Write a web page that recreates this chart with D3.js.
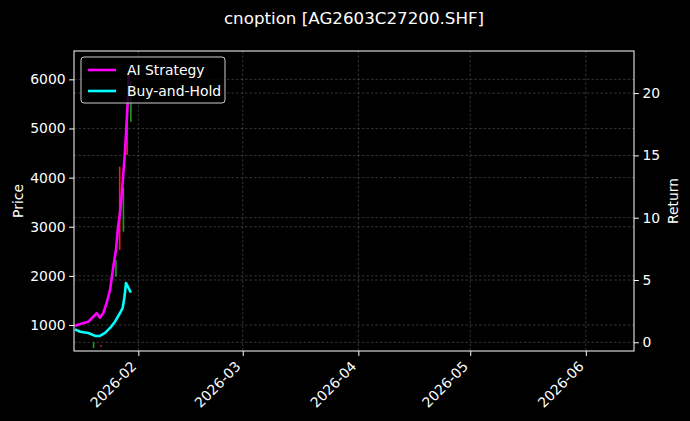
<!DOCTYPE html>
<html>
<head>
<meta charset="utf-8">
<script src="https://cdn.jsdelivr.net/npm/d3@7"></script>
<style>
  body { margin: 0; background: #000; }
  svg { display: block; font-family: "DejaVu Sans", sans-serif; }
</style>
</head>
<body>
<div id="chart"></div>
<script>
// candles (price axis, left)
var candleDates = ["2026-01-20", "2026-01-22", "2026-01-26", "2026-01-27", "2026-01-28", "2026-01-29", "2026-01-30"];
var candleOpen  = [530, 590, 1983, 4222, 2899, 5100, 5138];
var candleClose = [650, 560, 2323, 2527, 3800, 4460, 5966];

// strategy curves (return axis, right)
var aiDates = ["2026-01-15T00", "2026-01-16T10", "2026-01-18T14", "2026-01-19T22", "2026-01-20T20",
               "2026-01-21T17", "2026-01-22T14", "2026-01-23T12", "2026-01-24T10", "2026-01-25T07",
               "2026-01-26T00", "2026-01-26T14", "2026-01-27T07", "2026-01-27T19", "2026-01-28T10",
               "2026-01-28T22", "2026-01-29T06", "2026-01-29T10"];
var aiValues = [1.31, 1.47, 1.65, 2.05, 2.33, 1.97, 2.33, 3.15, 4.2, 6.07,
                7.41, 9.28, 10.88, 12.79, 15.3, 17.9, 19.8, 21.6];

var bhDates = ["2026-01-15T00", "2026-01-16T10", "2026-01-18T14", "2026-01-20T10", "2026-01-21T17",
               "2026-01-23T02", "2026-01-24T10", "2026-01-25T18", "2026-01-27T02", "2026-01-27T19",
               "2026-01-28T06", "2026-01-28T17", "2026-01-30T00"];
var bhValues = [1.04, 0.85, 0.75, 0.51, 0.51, 0.75, 1.15, 1.65, 2.35, 2.75, 3.56, 4.76, 3.98];

var xTickDates = ["2026-02-01", "2026-03-01", "2026-04-01", "2026-05-01", "2026-06-01"];
var priceTicks = [1000, 2000, 3000, 4000, 5000, 6000];
var returnTicks = [0, 5, 10, 15, 20];

var W = 690, H = 421;
var margin = { top: 51, right: 56, bottom: 70, left: 74 };
var iw = W - margin.left - margin.right,
    ih = H - margin.top - margin.bottom;

var parseDay = d3.utcParse("%Y-%m-%d"),
    parseHour = d3.utcParse("%Y-%m-%dT%H");

var x = d3.scaleUtc()
    .domain([parseHour("2026-01-14T18"), parseHour("2026-06-13T22")])
    .range([0, iw]);
var yPrice = d3.scaleLinear().domain([471, 6577]).range([ih, 0]);
var yRet = d3.scaleLinear().domain([-0.70, 23.38]).range([ih, 0]);

var svg = d3.select("#chart").append("svg")
    .attr("width", W)
    .attr("height", H);

svg.append("rect").attr("width", W).attr("height", H).attr("fill", "#000");

svg.append("text")
    .attr("x", margin.left + iw / 2)
    .attr("y", 24)
    .attr("text-anchor", "middle")
    .attr("font-size", "16.7px")
    .attr("fill", "#fff")
    .text("cnoption [AG2603C27200.SHF]");

var g = svg.append("g")
    .attr("transform", `translate(${margin.left},${margin.top})`);

svg.append("defs").append("clipPath").attr("id", "plotClip")
    .append("rect").attr("width", iw).attr("height", ih);

//grid
var grid = g.append("g").attr("class", "grid")
    .attr("stroke", "#4a4a4a")
    .attr("stroke-width", 0.7)
    .attr("stroke-dasharray", "2.5,2");

grid.selectAll(".vx").data(xTickDates).enter().append("line")
    .attr("x1", d => x(parseDay(d))).attr("x2", d => x(parseDay(d)))
    .attr("y1", 0).attr("y2", ih);
grid.selectAll(".hp").data(priceTicks).enter().append("line")
    .attr("x1", 0).attr("x2", iw)
    .attr("y1", d => yPrice(d)).attr("y2", d => yPrice(d));
grid.selectAll(".hr").data(returnTicks).enter().append("line")
    .attr("x1", 0).attr("x2", iw)
    .attr("y1", d => yRet(d)).attr("y2", d => yRet(d));

var plot = g.append("g").attr("clip-path", "url(#plotClip)");

//candles
plot.selectAll(".candle")
    .data(candleDates)
    .enter().append("rect")
    .attr("class", "candle")
    .attr("x", d => x(parseDay(d)) - 0.8)
    .attr("width", 1.6)
    .attr("y", (d, i) => yPrice(Math.max(candleOpen[i], candleClose[i])))
    .attr("height", (d, i) => Math.max(1, Math.abs(yPrice(candleOpen[i]) - yPrice(candleClose[i]))))
    .attr("fill", (d, i) => candleClose[i] >= candleOpen[i] ? "#1f9a1f" : "#ff1a1a");

var line = d3.line()
    .x(d => x(d[0]))
    .y(d => yRet(d[1]));

plot.append("path")
    .datum(bhDates.map((d, i) => [parseHour(d), bhValues[i]]))
    .attr("fill", "none")
    .attr("stroke", "#00ffff")
    .attr("stroke-width", 2.6)
    .attr("stroke-linejoin", "round")
    .attr("d", line);

plot.append("path")
    .datum(aiDates.map((d, i) => [parseHour(d), aiValues[i]]))
    .attr("fill", "none")
    .attr("stroke", "#ff00ff")
    .attr("stroke-width", 2.6)
    .attr("stroke-linejoin", "round")
    .attr("d", line);

//axes
var xAxis = g.append("g")
    .attr("transform", `translate(0,${ih})`)
    .call(d3.axisBottom(x).tickValues(xTickDates.map(parseDay)).tickFormat(d3.utcFormat("%Y-%m")).tickSize(4.9).tickPadding(3.5));
xAxis.selectAll("text")
    .attr("text-anchor", "end")
    .attr("dy", null)
    .attr("y", null)
    .attr("dominant-baseline", "hanging")
    .attr("transform", "translate(-9,9) rotate(-45)");

var yAxisL = g.append("g")
    .call(d3.axisLeft(yPrice).tickValues(priceTicks).tickFormat(d3.format("d")).tickSize(4.9).tickPadding(3.5));
var yAxisR = g.append("g")
    .attr("transform", `translate(${iw},0)`)
    .call(d3.axisRight(yRet).tickValues(returnTicks).tickFormat(d3.format("d")).tickSize(4.9).tickPadding(3.5));

[xAxis, yAxisL, yAxisR].forEach(function (a) {
    a.select(".domain").remove();
    a.selectAll("line").attr("stroke", "#fff");
    a.selectAll("text").attr("fill", "#fff").attr("font-size", "13.9px")
        .attr("font-family", "DejaVu Sans, sans-serif");
});

//frame
g.append("rect")
    .attr("width", iw).attr("height", ih)
    .attr("fill", "none").attr("stroke", "#fff").attr("stroke-width", 1);

svg.append("text")
    .attr("transform", `translate(18,${margin.top + ih / 2}) rotate(-90)`)
    .attr("text-anchor", "middle")
    .attr("dominant-baseline", "central")
    .attr("font-size", "13.9px")
    .attr("fill", "#fff")
    .text("Price");

svg.append("text")
    .attr("transform", `translate(673,${margin.top + ih / 2}) rotate(-90)`)
    .attr("text-anchor", "middle")
    .attr("dominant-baseline", "central")
    .attr("font-size", "13.9px")
    .attr("fill", "#fff")
    .text("Return");

//legend
var legend = g.append("g").attr("transform", "translate(7,6)");
legend.append("rect")
    .attr("width", 144).attr("height", 46).attr("rx", 3)
    .attr("fill", "#000").attr("fill-opacity", 0.8)
    .attr("stroke", "#ccc").attr("stroke-width", 1);

var legendItems = [["AI Strategy", "#ff00ff"], ["Buy-and-Hold", "#00ffff"]];
var li = legend.selectAll(".item").data(legendItems).enter().append("g")
    .attr("transform", (d, i) => `translate(0,${13 + i * 21})`);
li.append("line")
    .attr("x1", 7).attr("x2", 35)
    .attr("stroke", d => d[1]).attr("stroke-width", 2.6);
li.append("text")
    .attr("x", 46)
    .attr("dominant-baseline", "central")
    .attr("font-size", "13.9px")
    .attr("fill", "#fff")
    .text(d => d[0]);
</script>
</body>
</html>
